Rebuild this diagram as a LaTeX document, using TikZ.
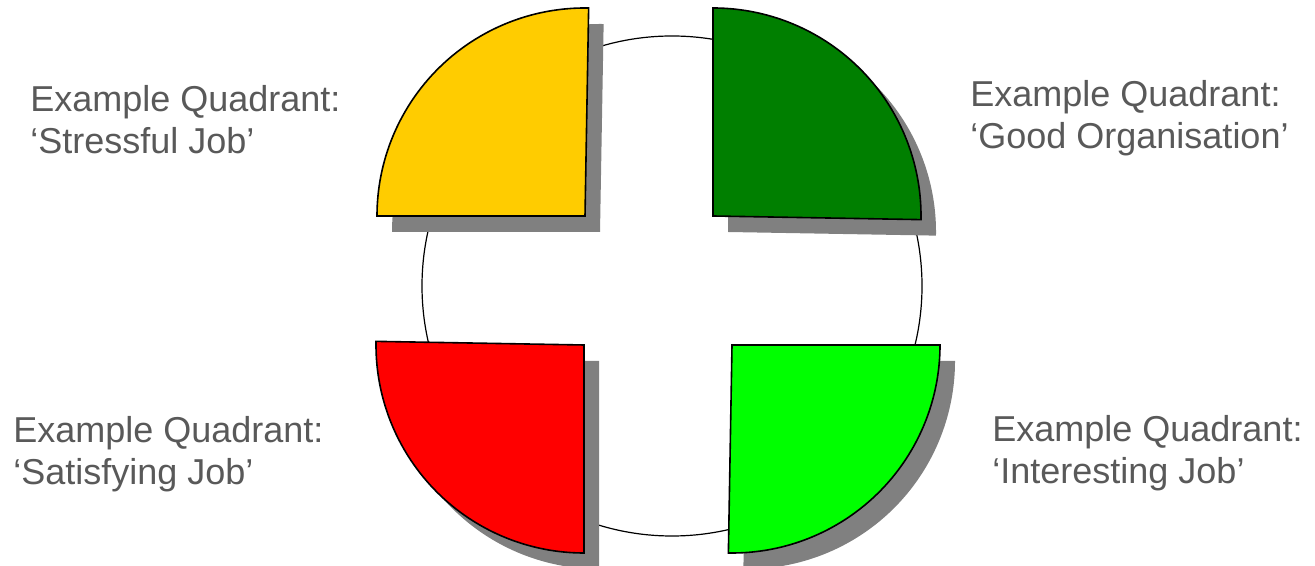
\documentclass[tikz,border=0pt]{standalone}
\usepackage{fontspec}
\setmainfont{Liberation Sans}
\usepackage{tikz}
\definecolor{quadyellow}{HTML}{FFCC00}
\definecolor{quaddkgreen}{HTML}{007F00}
\definecolor{quadred}{HTML}{FF0000}
\definecolor{quadltgreen}{HTML}{00FF00}
\definecolor{shadowgrey}{HTML}{808080}
\definecolor{labelgrey}{HTML}{595959}
\begin{document}
\begin{tikzpicture}[x=0.5pt,y=0.5pt,
  ring/.style={draw=black,line width=0.6pt},
  quad/.style={draw=black,line width=0.8pt,line join=miter},
  drop/.style={fill=shadowgrey},
  lab/.style={font=\fontsize{18}{21}\selectfont,text=labelgrey,align=left,
             inner sep=0pt,anchor=north west}
]
\useasboundingbox (0,0) rectangle (1315,566);
\draw[ring] (672,280) circle[radius=250];
% quadrants: centre x / centre y / start angle / colour
\foreach \cx/\cy/\a/\col in {585/350/89/quadyellow,713/350/-1/quaddkgreen,
                            584/221/179/quadred,732/221/269/quadltgreen}{
  \begin{scope}[shift={(\cx,\cy)}]
    \fill[drop] (15,-16) -- ++(\a:208) arc[start angle=\a,delta angle=91,radius=208] -- cycle;
    \filldraw[quad,fill=\col] (0,0) -- (\a:208) arc[start angle=\a,delta angle=91,radius=208] -- cycle;
  \end{scope}
}
\node[lab] (stressful) at (30,481) {Example Quadrant:\\‘Stressful Job’};
\node[lab] (goodorg) at (970,486) {Example Quadrant:\\‘Good Organisation’};
\node[lab] (satisfying) at (13,150) {Example Quadrant:\\‘Satisfying Job’};
\node[lab] (interesting) at (992,151) {Example Quadrant:\\‘Interesting Job’};
\end{tikzpicture}
\end{document}
